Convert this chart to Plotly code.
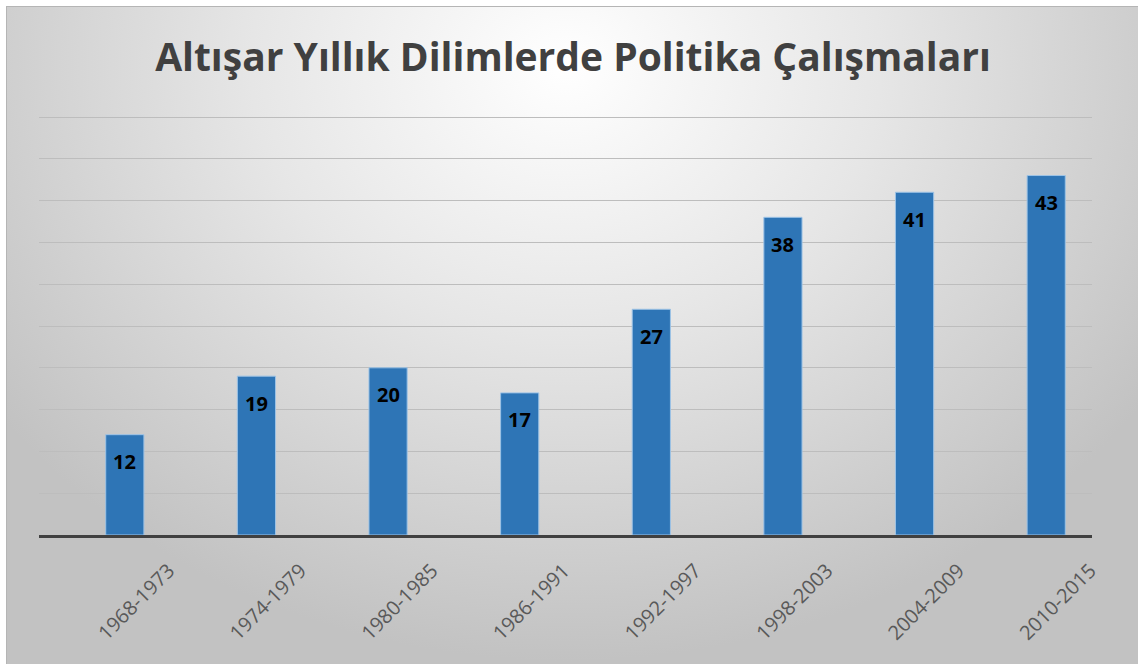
import base64
import plotly.graph_objects as go

categories = ["1968-1973", "1974-1979", "1980-1985", "1986-1991",
              "1992-1997", "1998-2003", "2004-2009", "2010-2015"]
values = [12, 19, 20, 17, 27, 38, 41, 43]
title_text = "Altışar Yıllık Dilimlerde Politika Çalışmaları"

W, H = 1138, 664
L, R, T, B = 39, 46, 115, 129
pw, ph = W - L - R, H - T - B

def px_x(px):
    return (px - L) / pw

def px_y(py):
    return (H - B - py) / ph

# radial gradient background (chart area style)
svg = f'''<svg xmlns="http://www.w3.org/2000/svg" width="{W-6}" height="{H-6}" viewBox="0 0 {W-6} {H-6}" preserveAspectRatio="none">
<defs><radialGradient id="g" gradientUnits="userSpaceOnUse" cx="560" cy="60" r="700" gradientTransform="translate(560 60) scale(1 0.85) translate(-560 -60)">
<stop offset="0" stop-color="#ffffff"/><stop offset="0.45" stop-color="#e6e6e6"/><stop offset="1" stop-color="#c2c2c2"/></radialGradient></defs>
<rect x="0" y="0" width="{W-6}" height="{H-6}" fill="url(#g)"/>
<line x1="0.5" y1="0" x2="0.5" y2="{H-6}" stroke="#b5b5b5" stroke-width="1"/>
<line x1="0" y1="0.5" x2="{W-6}" y2="0.5" stroke="#b5b5b5" stroke-width="1"/>
</svg>'''
src = "data:image/svg+xml;base64," + base64.b64encode(svg.encode()).decode()

fig = go.Figure()
fig.add_trace(go.Bar(
    x=categories, y=values,
    marker=dict(color="#2E75B6", line=dict(color="#9DC3E6", width=1)),
    hoverinfo="x+y",
))

for c, v in zip(categories, values):
    fig.add_annotation(x=c, y=v, text="<b>" + str(v) + "</b>", showarrow=False,
                       yanchor="middle", yshift=-27,
                       font=dict(family="Open Sans", size=20, color="#000000"),
                       xref="x", yref="y")

fig.update_layout(
    width=W, height=H,
    margin=dict(l=L, r=R, t=T, b=B, pad=0),
    paper_bgcolor="#ffffff",
    plot_bgcolor="rgba(0,0,0,0)",
    bargap=0.71,
    showlegend=False,
    title=dict(text="<b>" + title_text + "</b>", x=573 / W, xanchor="center",
               xref="container", yref="container", y=(H - 57) / H, yanchor="middle",
               font=dict(family="Open Sans", size=39, color="#404040")),
    images=[dict(source=src, xref="paper", yref="paper",
                 x=px_x(6), y=px_y(6), sizex=(W - 6) / pw, sizey=(H - 6) / ph,
                 xanchor="left", yanchor="top", sizing="stretch", layer="below")],
    xaxis=dict(showline=True, linecolor="#404040", linewidth=3,
               range=[-0.652, 7.348],
               ticks="", tickangle=-45, ticklabelshift=44, ticklabelstandoff=13,
               tickfont=dict(family="Open Sans", size=20, color="#595959"),
               showgrid=False),
    yaxis=dict(range=[0, 50.24], dtick=5, showticklabels=False,
               gridcolor="#bdbdbd", gridwidth=1, zeroline=False),
)
fig.write_html("out.html", config={"displayModeBar": False},
               post_script="document.body.style.margin='0';document.body.style.overflow='hidden';")
